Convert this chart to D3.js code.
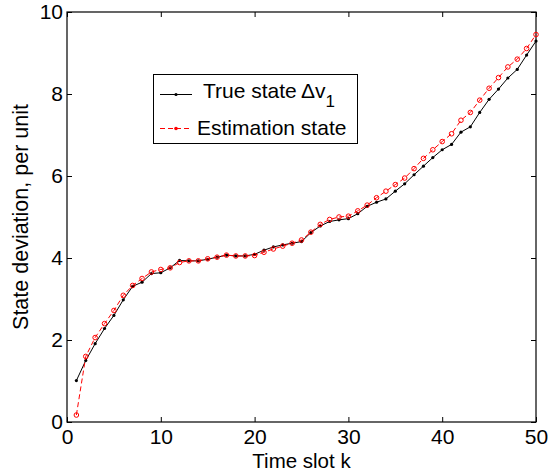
<!DOCTYPE html>
<html>
<head>
<meta charset="utf-8">
<script src="https://cdn.jsdelivr.net/npm/d3@7"></script>
<style>
  body { margin: 0; background: #fff; }
  svg { font-family: Arial, "Liberation Sans", sans-serif; }
</style>
</head>
<body>
<svg width="559" height="472"></svg>
<script>
// time slots and the two series
let slots = d3.range(1, 51);
let trueState = [1.01, 1.50, 1.91, 2.28, 2.60, 2.98, 3.31, 3.41, 3.62, 3.64,
  3.76, 3.94, 3.93, 3.93, 3.97, 4.02, 4.07, 4.05, 4.05, 4.09,
  4.19, 4.27, 4.32, 4.36, 4.40, 4.62, 4.78, 4.89, 4.93, 4.96,
  5.08, 5.26, 5.36, 5.44, 5.63, 5.81, 6.03, 6.24, 6.45, 6.64,
  6.77, 7.07, 7.20, 7.55, 7.87, 8.12, 8.39, 8.60, 8.95, 9.29];
let estState = [0.17, 1.60, 2.06, 2.40, 2.72, 3.09, 3.33, 3.50, 3.66, 3.72,
  3.76, 3.89, 3.93, 3.93, 3.98, 4.02, 4.07, 4.05, 4.05, 4.06,
  4.14, 4.22, 4.29, 4.36, 4.44, 4.63, 4.82, 4.94, 5.00, 5.02,
  5.15, 5.29, 5.47, 5.63, 5.79, 5.95, 6.18, 6.43, 6.64, 6.84,
  7.03, 7.36, 7.55, 7.85, 8.14, 8.40, 8.66, 8.85, 9.11, 9.45];
let xTicks = [0, 10, 20, 30, 40, 50];
let yTicks = [0, 2, 4, 6, 8, 10];

let svg = d3.select('svg');
let margin = {left: 67, right: 23, top: 12, bottom: 50};
let width = 559 - margin.left - margin.right;
let height = 472 - margin.top - margin.bottom;

let x = d3.scaleLinear().domain([0, 50]).range([0, width]);
let y = d3.scaleLinear().domain([0, 10]).range([height, 0]);

let g = svg.append('g').attr('transform', `translate(${margin.left},${margin.top})`);

// axes: ticks pointing inward, mirrored on top and right
function styleAxis(sel) {
  sel.select('.domain').remove();
  sel.selectAll('.tick line').attr('stroke', '#000');
  sel.selectAll('.tick text').attr('fill', '#000').style('font-size', '21px');
}
g.append('g').attr('transform', `translate(0,${height})`)
  .call(d3.axisBottom(x).tickValues(xTicks).tickSize(-5).tickPadding(7))
  .call(styleAxis);
g.append('g')
  .call(d3.axisTop(x).tickValues(xTicks).tickSize(-5).tickFormat(''))
  .call(styleAxis);
g.append('g')
  .call(d3.axisLeft(y).tickValues(yTicks).tickSize(-5).tickPadding(4))
  .call(styleAxis);
g.append('g').attr('transform', `translate(${width},0)`)
  .call(d3.axisRight(y).tickValues(yTicks).tickSize(-5).tickFormat(''))
  .call(styleAxis);

g.append('rect')
  .attr('width', width).attr('height', height)
  .attr('fill', 'none').attr('stroke', '#000').attr('stroke-width', 1.2);

let line = d3.line().x((d, i) => x(slots[i])).y(d => y(d));

// true state: solid black with dots
g.append('path').datum(trueState)
  .attr('d', line).attr('fill', 'none').attr('stroke', '#000').attr('stroke-width', 1);
g.selectAll('.dot-true').data(trueState).enter().append('circle')
  .attr('class', 'dot-true')
  .attr('cx', (d, i) => x(slots[i])).attr('cy', d => y(d))
  .attr('r', 1.6).attr('fill', '#000');

// estimation: dashed red with open circles
g.append('path').datum(estState)
  .attr('d', line).attr('fill', 'none').attr('stroke', '#f00')
  .attr('stroke-width', 1).attr('stroke-dasharray', '5,3');
g.selectAll('.dot-est').data(estState).enter().append('circle')
  .attr('class', 'dot-est')
  .attr('cx', (d, i) => x(slots[i])).attr('cy', d => y(d))
  .attr('r', 2.3).attr('fill', 'none').attr('stroke', '#f00').attr('stroke-width', 1);

// axis titles
svg.append('text')
  .attr('x', margin.left + width / 2).attr('y', 467.5)
  .attr('text-anchor', 'middle').style('font-size', '20.5px')
  .text('Time slot k');
svg.append('text')
  .attr('transform', `translate(28,${margin.top + height / 2}) rotate(-90)`)
  .attr('text-anchor', 'middle').style('font-size', '21.5px')
  .text('State deviation, per unit');

// legend
let legend = svg.append('g');
legend.append('rect')
  .attr('x', 153.5).attr('y', 74.5).attr('width', 204).attr('height', 69)
  .attr('fill', '#fff').attr('stroke', '#000').attr('stroke-width', 1);

legend.append('line')
  .attr('x1', 160).attr('x2', 192).attr('y1', 94.5).attr('y2', 94.5)
  .attr('stroke', '#000').attr('stroke-width', 1);
legend.append('circle').attr('cx', 176).attr('cy', 94.5).attr('r', 1.6).attr('fill', '#000');
let t1 = legend.append('text').attr('x', 203).attr('y', 97.5).style('font-size', '21px');
t1.append('tspan').text('True state\u2009\u0394v');
t1.append('tspan').attr('dy', 9).style('font-size', '17px').text('1');

legend.append('line')
  .attr('x1', 160).attr('x2', 192).attr('y1', 128.5).attr('y2', 128.5)
  .attr('stroke', '#f00').attr('stroke-width', 1).attr('stroke-dasharray', '5,3');
legend.append('circle').attr('cx', 176).attr('cy', 128.5).attr('r', 1.8).attr('fill', '#f00');
legend.append('text').attr('x', 197).attr('y', 135).style('font-size', '21px')
  .text('Estimation state');
</script>
</body>
</html>
